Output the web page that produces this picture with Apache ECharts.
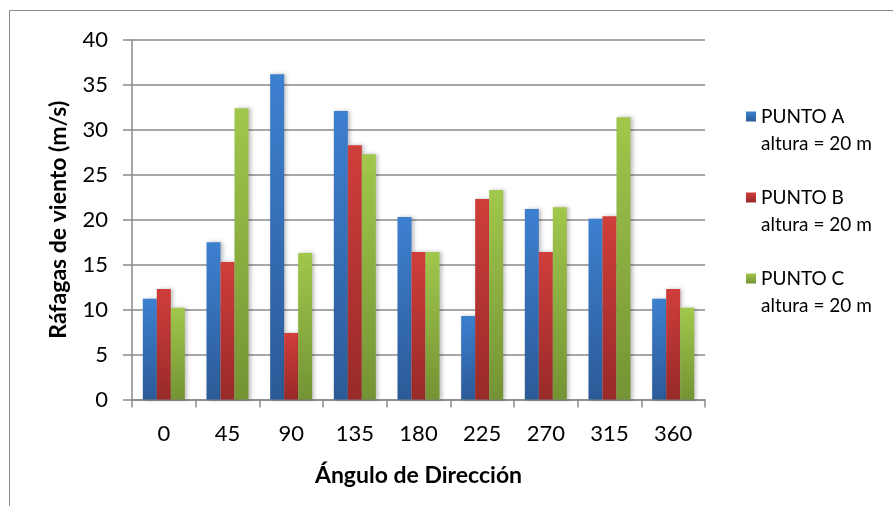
<!DOCTYPE html>
<html>
<head>
<meta charset="utf-8">
<script src="https://cdn.jsdelivr.net/npm/echarts@6/dist/echarts.min.js"></script>
<style>
html,body{margin:0;padding:0;background:#fff;}
#chart{width:893px;height:506px;}
</style>
</head>
<body>
<div id="chart"></div>
<script>
const categories = ['0','45','90','135','180','225','270','315','360'];
const puntoA = [11.2, 17.5, 36.2, 32.1, 20.3, 9.3, 21.2, 20.1, 11.2];
const puntoB = [12.3, 15.3, 7.4, 28.3, 16.4, 22.3, 16.4, 20.4, 12.3];
const puntoC = [10.2, 32.4, 16.3, 27.3, 16.4, 23.3, 21.4, 31.4, 10.2];
const seriesNames = ['PUNTO A', 'PUNTO B', 'PUNTO C'];
const subLabel = 'altura = 20 m';
const yTicks = {min: 0, max: 40, interval: 5};

const FONT = 'Lato, "Open Sans", sans-serif';
function grad(top, bottom){
  return new echarts.graphic.LinearGradient(0,0,0,1,[{offset:0,color:top},{offset:1,color:bottom}]);
}
const styles = [
  grad('#3D80D0','#2C5A97'),
  grad('#D03E3B','#982A28'),
  grad('#A1C74C','#749334')
];
const chart = echarts.init(document.getElementById('chart'));
const data = [puntoA, puntoB, puntoC];
chart.setOption({
  animation:false,
  backgroundColor:'#fff',
  graphic:[{type:'rect', shape:{x:9.5,y:10.5,width:900,height:600}, style:{fill:'none', stroke:'#8a8a8a', lineWidth:1}, z:-1}],
  grid:{left:132, right:188, top:40, bottom:106.5},
  legend:{
    orient:'vertical', left:741, top:75, itemGap:8,
    icon:'rect', itemWidth:10, itemHeight:10,
    data: seriesNames,
    formatter: n => '{e| }\n{a|' + n + '}\n{a|' + subLabel + '}',
    textStyle:{fontFamily:FONT, fontSize:19, color:'#000',
      rich:{e:{fontSize:19, lineHeight:27, fontFamily:FONT}, a:{fontSize:19, lineHeight:27, fontFamily:FONT, color:'#000'}}}
  },
  xAxis:{
    type:'category', data:categories,
    axisLine:{lineStyle:{color:'#8a8a8a', width:1.5}},
    axisTick:{show:true, length:8, lineStyle:{color:'#8a8a8a', width:1.5}},
    axisLabel:{fontFamily:FONT, fontSize:22, color:'#000', margin:23},
    name:'Ángulo de Dirección', nameLocation:'middle', nameGap:65,
    nameTextStyle:{fontFamily:FONT, fontSize:23, fontWeight:'bold', color:'#000'}
  },
  yAxis:{
    type:'value', min:yTicks.min, max:yTicks.max, interval:yTicks.interval,
    axisLine:{show:true, lineStyle:{color:'#8a8a8a', width:1.5}},
    axisTick:{show:true, length:9, lineStyle:{color:'#8a8a8a', width:1.5}},
    splitLine:{lineStyle:{color:'#8a8a8a', width:1.5}},
    axisLabel:{fontFamily:FONT, fontSize:22, color:'#000', margin:24},
    name:'Ráfagas de viento (m/s)', nameLocation:'middle', nameGap:62, nameRotate:90,
    nameTextStyle:{fontFamily:FONT, fontSize:23, fontWeight:'bold', color:'#000'}
  },
  series: seriesNames.map((n,i)=>({
    name:n, type:'bar', data:data[i], barWidth:14, barGap:'0%',
    itemStyle:{color:styles[i], shadowColor:'rgba(0,0,0,0.25)', shadowBlur:4, shadowOffsetX:2}
  }))
});
</script>
</body>
</html>
